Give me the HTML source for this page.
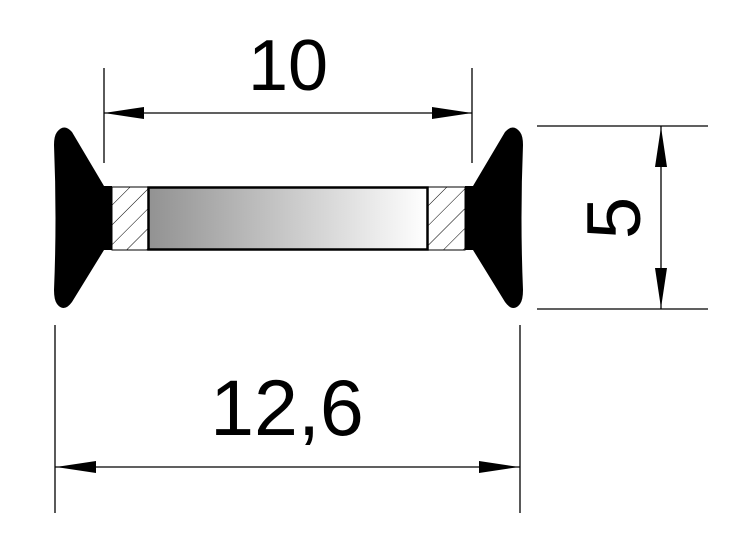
<!DOCTYPE html>
<html><head><meta charset="utf-8"><style>body{margin:0;background:#fff}svg{display:block}</style></head><body>
<svg width="740" height="545" viewBox="0 0 740 545" xmlns="http://www.w3.org/2000/svg">
<defs>
<linearGradient id="g" x1="0" x2="1" y1="0" y2="0"><stop offset="0" stop-color="#929292"/><stop offset="1" stop-color="#ffffff"/></linearGradient>
<pattern id="h" patternUnits="userSpaceOnUse" width="14" height="14" patternTransform="rotate(45)"><line x1="0" y1="0" x2="0" y2="14" stroke="#000" stroke-width="1"/></pattern>
</defs>
<g stroke="#000" stroke-width="1.3" fill="none">
<line x1="104" y1="68" x2="104" y2="163"/><line x1="472" y1="68" x2="472" y2="163"/>
<line x1="104" y1="113" x2="472" y2="113"/>
<line x1="537" y1="126" x2="708" y2="126"/><line x1="537" y1="309" x2="708" y2="309"/>
<line x1="661" y1="126" x2="661" y2="309"/>
<line x1="55" y1="325" x2="55" y2="513"/><line x1="520" y1="325" x2="520" y2="513"/>
<line x1="55" y1="467" x2="520" y2="467"/>
</g>
<g fill="#000">
<polygon points="104,113 144,107 144,119"/><polygon points="472,113 432,107 432,119"/>
<polygon points="661,127 655,167 667,167"/><polygon points="661,308 655,268 667,268"/>
<polygon points="56,467 96,461 96,473"/><polygon points="519,467 479,461 479,473"/>
</g>
<rect x="112" y="187" width="36" height="63" fill="url(#h)" stroke="#000" stroke-width="1"/>
<rect x="428" y="187" width="37" height="63" fill="url(#h)" stroke="#000" stroke-width="1"/>
<rect x="148.5" y="187.5" width="279" height="62" fill="url(#g)" stroke="#000" stroke-width="2.5"/>
<path d="M112,186 L112,250 L104,250 L72,302 Q64,313 57,304 Q54,300 54,290 Q57,218 54,145 Q54,136 57,132 Q64,123 72,132 L104,186 Z" fill="#000"/>
<path d="M465,186 L465,250 L473,250 L505,302 Q513,313 520,304 Q523,300 523,290 Q520,218 523,145 Q523,136 520,132 Q513,123 505,132 L473,186 Z" fill="#000"/>
<g font-family="Liberation Sans, sans-serif" fill="#000" text-anchor="middle">
<text x="288" y="90" font-size="72">10</text>
<text x="287" y="435" font-size="79">12,6</text>
<text transform="translate(640,218) rotate(-90)" font-size="76">5</text>
</g>
</svg>
</body></html>
